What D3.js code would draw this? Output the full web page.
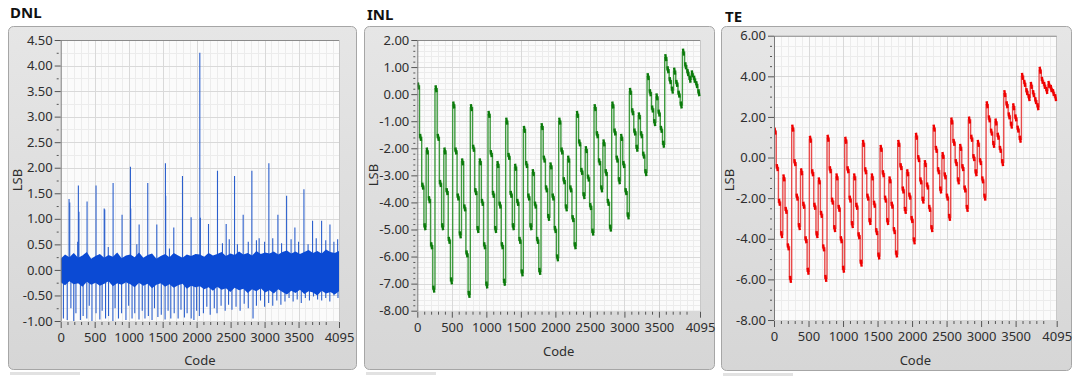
<!DOCTYPE html>
<html>
<head>
<meta charset="utf-8">
<script src="https://cdn.jsdelivr.net/npm/d3@7/dist/d3.min.js"></script>
<style>
  body { margin: 0; background: #fff; }
  svg { display: block; font-family: "Noto Sans", "Open Sans", sans-serif; }
</style>
</head>
<body>
<script>
  // ---- data ----
  const codeTicks = [0, 500, 1000, 1500, 2000, 2500, 3000, 3500, 4095]
  const dnlTicks = [-1, -0.5, 0, 0.5, 1, 1.5, 2, 2.5, 3, 3.5, 4, 4.5]
  const inlTicks = [-8, -7, -6, -5, -4, -3, -2, -1, 0, 1, 2]
  const teTicks = [-8, -6, -4, -2, 0, 2, 4, 6]

  // DNL noise band edges, one value every 64 codes
  const dnlUpper = [
    0.22, 0.30, 0.25, 0.33, 0.24, 0.28, 0.35, 0.22, 0.27, 0.31, 0.24, 0.29, 0.26, 0.34, 0.23, 0.28,
    0.30, 0.25, 0.34, 0.24, 0.29, 0.32, 0.22, 0.27, 0.31, 0.25, 0.33, 0.28, 0.24, 0.30, 0.27, 0.31,
    0.30, 0.26, 0.33, 0.28, 0.31, 0.35, 0.27, 0.32, 0.29, 0.36, 0.30, 0.33, 0.28, 0.37, 0.31, 0.34,
    0.32, 0.36, 0.30, 0.35, 0.38, 0.32, 0.36, 0.31, 0.35, 0.39, 0.33, 0.37, 0.32, 0.40, 0.35, 0.33, 0.37
  ]
  const dnlLower = [
    -0.24, -0.30, -0.22, -0.28, -0.26, -0.33, -0.23, -0.29, -0.25, -0.31, -0.27, -0.22, -0.32, -0.26, -0.29, -0.24,
    -0.28, -0.34, -0.25, -0.31, -0.27, -0.36, -0.29, -0.26, -0.33, -0.28, -0.35, -0.30, -0.27, -0.37, -0.31, -0.34,
    -0.32, -0.38, -0.34, -0.41, -0.33, -0.39, -0.36, -0.43, -0.35, -0.40, -0.37, -0.45, -0.38, -0.42, -0.36, -0.44,
    -0.40, -0.46, -0.38, -0.43, -0.48, -0.41, -0.45, -0.39, -0.47, -0.42, -0.44, -0.50, -0.41, -0.46, -0.43, -0.48, -0.42
  ]
  // DNL spikes [code, LSB]
  const dnlPeaks = [
    [123, 1.39], [133, 1.32], [250, 0.55], [260, 1.65], [268, 1.14], [388, 1.34], [520, 1.65], [640, 1.20],
    [648, 1.18], [700, 0.45], [771, 1.70], [903, 1.08], [1026, 2.02], [1030, 1.20], [1120, 0.50], [1154, 0.89],
    [1281, 1.70], [1414, 0.89], [1541, 2.09], [1545, 1.45], [1600, 0.42], [1664, 0.83], [1792, 1.84], [1919, 1.03],
    [2047, 4.25], [2055, 1.02], [2175, 0.90], [2307, 1.94], [2380, 0.52], [2435, 0.90], [2480, 0.60], [2558, 1.84],
    [2600, 0.50], [2685, 1.08], [2760, 0.55], [2813, 1.94], [2880, 0.58], [2920, 0.62], [3000, 0.55], [3063, 2.09],
    [3120, 0.62], [3196, 1.08], [3250, 0.52], [3324, 1.45], [3390, 0.60], [3446, 0.83], [3500, 0.55], [3579, 1.58],
    [3640, 0.50], [3706, 0.96], [3760, 0.62], [3839, 0.96], [3900, 0.58], [3962, 0.89], [4020, 0.55], [4075, 0.60]
  ]
  const dnlDips = [
    [40, -0.95], [96, -0.98], [150, -0.75], [192, -1.0], [224, -0.85], [290, -0.98], [330, -0.9], [384, -0.95],
    [420, -0.7], [460, -1.0], [520, -0.85], [576, -0.97], [610, -0.8], [660, -0.95], [704, -0.9], [768, -1.0],
    [800, -0.75], [850, -0.95], [896, -0.85], [960, -0.98], [1000, -0.7], [1050, -0.95], [1090, -0.85], [1152, -0.97],
    [1200, -0.8], [1240, -0.95], [1290, -0.9], [1344, -0.98], [1380, -0.75], [1430, -0.92], [1480, -0.88], [1536, -0.97],
    [1580, -0.8], [1620, -0.95], [1670, -0.85], [1728, -0.95], [1770, -0.78], [1820, -0.93], [1860, -0.85], [1920, -0.95],
    [1960, -0.98], [2000, -0.8], [2040, -0.9], [2100, -0.85], [2150, -0.72], [2200, -0.88], [2260, -0.75], [2300, -0.85],
    [2360, -0.7], [2420, -0.8], [2470, -0.68], [2520, -0.78], [2580, -0.72], [2640, -0.8], [2700, -0.66], [2760, -0.75],
    [2830, -0.95], [2880, -0.7], [2940, -0.6], [3000, -0.72], [3060, -0.65], [3120, -0.7], [3180, -0.6], [3240, -0.68],
    [3300, -0.62], [3360, -0.55], [3420, -0.62], [3480, -0.58], [3540, -0.65], [3600, -0.55], [3660, -0.6], [3720, -0.52],
    [3780, -0.58], [3840, -0.6], [3900, -0.55], [3960, -0.62], [4020, -0.5], [4080, -0.55]
  ]

  // INL / TE: 16 segments of 256 codes, 8 steps of 32 codes each
  const inlSteps = [
    [0.3, -1.6, -3.4, -4.9, -2.1, -3.9, -5.6, -7.2],
    [0.2, -1.6, -3.3, -4.9, -2.1, -3.6, -5.4, -6.9],
    [-0.4, -2.1, -3.8, -5.2, -2.5, -4.2, -5.9, -7.4],
    [-0.5, -2.0, -3.6, -5.0, -2.5, -4.0, -5.6, -7.05],
    [-0.75, -2.2, -3.7, -5.0, -2.6, -4.1, -5.6, -6.95],
    [-1.0, -2.3, -3.7, -4.9, -2.7, -4.0, -5.4, -6.6],
    [-1.3, -2.6, -3.8, -4.9, -2.9, -4.1, -5.4, -6.55],
    [-1.2, -2.4, -3.5, -4.55, -2.65, -3.8, -5.0, -6.05],
    [-1.0, -2.1, -3.2, -4.2, -2.4, -3.5, -4.6, -5.6],
    [-0.75, -1.8, -2.85, -3.75, -2.05, -3.1, -4.15, -5.1],
    [-0.5, -1.5, -2.5, -3.5, -1.8, -2.9, -4.0, -4.95],
    [-0.4, -1.4, -2.4, -3.2, -1.6, -2.6, -3.6, -4.5],
    [0.1, -0.65, -1.4, -2.0, -0.8, -1.5, -2.25, -2.9],
    [0.65, 0.05, -0.55, -1.05, -0.1, -0.7, -1.3, -1.85],
    [1.35, 0.9, 0.5, 0.15, 0.85, 0.4, 0.0, -0.4],
    [1.55, 1.05, 0.8, 0.55, 0.75, 0.55, 0.35, 0.05]
  ]
  const teSteps = [
    [1.3, -0.5, -2.2, -3.8, -1.0, -2.6, -4.4, -6.0],
    [1.45, -0.25, -1.95, -3.4, -0.7, -2.35, -4.05, -5.6],
    [0.9, -0.75, -2.4, -3.8, -1.15, -2.8, -4.45, -5.95],
    [0.95, -0.6, -2.15, -3.5, -0.95, -2.5, -4.05, -5.5],
    [0.85, -0.6, -2.05, -3.3, -0.95, -2.4, -3.85, -5.2],
    [0.7, -0.65, -1.95, -3.15, -0.95, -2.3, -3.65, -4.85],
    [0.45, -0.8, -2.05, -3.15, -1.1, -2.35, -3.6, -4.75],
    [0.7, -0.45, -1.6, -2.6, -0.75, -1.9, -3.05, -4.1],
    [1.05, -0.05, -1.15, -2.1, -0.3, -1.4, -2.5, -3.5],
    [1.45, 0.4, -0.65, -1.6, 0.1, -0.9, -1.95, -2.95],
    [1.8, 0.75, -0.25, -1.15, 0.5, -0.5, -1.55, -2.5],
    [1.85, 0.95, 0.0, -0.75, 0.7, -0.2, -1.1, -1.95],
    [2.6, 1.9, 1.25, 0.65, 1.75, 1.05, 0.4, -0.25],
    [3.15, 2.6, 2.05, 1.6, 2.5, 1.95, 1.4, 0.9],
    [4.0, 3.65, 3.25, 2.95, 3.55, 3.15, 2.8, 2.5],
    [4.3, 3.8, 3.55, 3.3, 3.6, 3.4, 3.2, 2.95]
  ]

  // ---- drawing ----
  const svg = d3.select('body').append('svg').attr('width', 1078).attr('height', 377)

  const defs = svg.append('defs')
  const grad = defs.append('linearGradient').attr('id', 'panelGrad').attr('x1', 0).attr('y1', 0).attr('x2', 0).attr('y2', 1)
  grad.append('stop').attr('offset', 0).attr('stop-color', '#e6e6e6')
  grad.append('stop').attr('offset', 1).attr('stop-color', '#d6d6d6')

  const fmt = d => d.toFixed(2)

  function drawPanel(cfg, drawData) {
    const g = svg.append('g')
    const [px, py, pw, ph] = cfg.panel
    g.append('rect').attr('x', px + 0.5).attr('y', py + 0.5).attr('width', pw).attr('height', ph)
      .attr('rx', 5).attr('fill', 'url(#panelGrad)').attr('stroke', '#a6a6a6')
    g.append('rect').attr('x', px + 2).attr('y', ph + py + 3).attr('width', 70).attr('height', 3).attr('fill', '#e2e2e2')

    g.append('text').attr('x', cfg.title[0]).attr('y', cfg.title[1]).text(cfg.name)
      .attr('font-size', 15).attr('font-weight', 'bold').attr('fill', '#111')

    const x = d3.scaleLinear().domain([0, 4095]).range([cfg.x0, cfg.x1])
    const y = d3.scaleLinear().domain(cfg.yDomain).range([cfg.y1, cfg.y0])

    g.append('rect').attr('x', cfg.x0).attr('y', cfg.y0).attr('width', cfg.x1 - cfg.x0).attr('height', cfg.y1 - cfg.y0)
      .attr('fill', '#fbfbfb')

    const minorX = d3.range(100, 4001, 100)
    const minorY = d3.range(cfg.yDomain[0], cfg.yDomain[1] + 1e-9, cfg.minor)
    const grid = g.append('g').attr('shape-rendering', 'crispEdges')
    grid.selectAll('.mx').data(minorX).join('line')
      .attr('x1', d => Math.round(x(d)) + 0.5).attr('x2', d => Math.round(x(d)) + 0.5)
      .attr('y1', cfg.y0).attr('y2', cfg.y1).attr('stroke', '#ececec')
    grid.selectAll('.my').data(minorY).join('line')
      .attr('y1', d => Math.round(y(d)) + 0.5).attr('y2', d => Math.round(y(d)) + 0.5)
      .attr('x1', cfg.x0).attr('x2', cfg.x1).attr('stroke', '#ececec')
    grid.selectAll('.Mx').data(codeTicks.slice(1, -1)).join('line')
      .attr('x1', d => Math.round(x(d)) + 0.5).attr('x2', d => Math.round(x(d)) + 0.5)
      .attr('y1', cfg.y0).attr('y2', cfg.y1).attr('stroke', '#d9d9d9')
    grid.selectAll('.My').data(cfg.yTicks).join('line')
      .attr('y1', d => Math.round(y(d)) + 0.5).attr('y2', d => Math.round(y(d)) + 0.5)
      .attr('x1', cfg.x0).attr('x2', cfg.x1).attr('stroke', '#d9d9d9')
    grid.append('line').attr('x1', cfg.x1).attr('x2', cfg.x1).attr('y1', cfg.y0).attr('y2', cfg.y1).attr('stroke', '#c8c8c8')

    const clipId = 'clip' + cfg.name
    defs.append('clipPath').attr('id', clipId).append('rect')
      .attr('x', cfg.x0).attr('y', cfg.y0).attr('width', cfg.x1 - cfg.x0 + 1).attr('height', cfg.y1 - cfg.y0)
    const dg = g.append('g').attr('clip-path', `url(#${clipId})`)
    drawData(dg, x, y)

    // top border of the plot
    g.append('line').attr('x1', cfg.x0).attr('x2', cfg.x1).attr('y1', cfg.y0 + 0.5).attr('y2', cfg.y0 + 0.5)
      .attr('stroke', '#8a8a8a')

    // axes
    const yAxis = g.append('g').attr('transform', `translate(${cfg.x0},0)`)
      .call(d3.axisLeft(y).tickValues(cfg.yTicks).tickFormat(fmt).tickSize(6).tickSizeOuter(0).tickPadding(2))
      .attr('font-family', null).attr('font-size', 13)
    yAxis.select('.domain').attr('stroke', '#7a7a7a')
    yAxis.selectAll('line').attr('stroke', '#555')
    yAxis.selectAll('text').attr('fill', '#2e2e2e')
    g.append('g').attr('transform', `translate(${cfg.x0},0)`)
      .call(d3.axisLeft(y).tickValues(minorY.filter(v => !cfg.yTicks.some(t => Math.abs(t - v) < 1e-6))).tickFormat('').tickSize(2))
      .call(a => a.select('.domain').remove())
      .selectAll('line').attr('stroke', '#555').attr('transform', 'translate(-2,0)')

    const xAxis = g.append('g').attr('transform', `translate(0,${cfg.y1 + 1})`)
      .call(d3.axisBottom(x).tickValues(codeTicks).tickFormat(d3.format('d')).tickSize(6).tickPadding(5))
      .attr('font-family', null).attr('font-size', 13)
    xAxis.select('.domain').remove()
    xAxis.selectAll('line').attr('stroke', '#555')
    xAxis.selectAll('text').attr('fill', '#2e2e2e')
    g.append('g').attr('transform', `translate(0,${cfg.y1 + 1})`)
      .call(d3.axisBottom(x).tickValues(minorX.filter(v => v % 500 !== 0)).tickFormat('').tickSize(3))
      .call(a => a.select('.domain').remove())
      .selectAll('line').attr('stroke', '#555')

    g.append('text').attr('x', (cfg.x0 + cfg.x1) / 2).attr('y', cfg.codeY).attr('text-anchor', 'middle')
      .attr('font-size', 13).attr('fill', '#2e2e2e').text('Code')
    g.append('text').attr('transform', `translate(${cfg.lsb[0]},${cfg.lsb[1]}) rotate(-90)`)
      .attr('text-anchor', 'middle').attr('font-size', 13).attr('fill', '#2e2e2e').text('LSB')
  }

  function stepData(steps) {
    const out = []
    steps.forEach((seg, k) => seg.forEach((v, j) => {
      const c0 = 256 * k + 32 * j
      out.push({ c0: c0, c1: Math.min(c0 + 32, 4095), v: v })
    }))
    return out
  }

  function drawSteps(dg, x, y, steps, thin, dark) {
    const data = stepData(steps)
    const pts = []
    data.forEach(d => { pts.push([d.c0, d.v], [d.c1, d.v]) })
    dg.append('path').datum(pts)
      .attr('d', d3.line().x(d => x(d[0])).y(d => y(d[1])))
      .attr('fill', 'none').attr('stroke', thin).attr('stroke-width', 1.4)
    dg.selectAll('.blk').data(data).join('line')
      .attr('x1', d => x(d.c0 + 8)).attr('x2', d => x(d.c0 + 22))
      .attr('y1', d => y(d.v) - 3.5).attr('y2', d => y(d.v) + 3.5)
      .attr('stroke', dark).attr('stroke-width', 2.4)
  }

  drawPanel({
    name: 'DNL', panel: [8, 26, 348, 343], title: [10, 18],
    x0: 60.7, x1: 339, y0: 40, y1: 321, yDomain: [-1, 4.5], yTicks: dnlTicks, minor: 0.25,
    codeY: 365, lsb: [22, 180]
  }, (dg, x, y) => {
    dg.selectAll('.pk').data(dnlPeaks.concat(dnlDips)).join('line')
      .attr('x1', d => x(d[0])).attr('x2', d => x(d[0]))
      .attr('y1', y(0)).attr('y2', d => y(d[1]))
      .attr('stroke', '#2b5fcc').attr('stroke-width', 1.1)
    const band = dnlUpper.map((u, i) => [Math.min(i * 64, 4095), u, dnlLower[i]])
    dg.append('path').datum(band)
      .attr('d', d3.area().x(d => x(d[0])).y0(d => y(d[2])).y1(d => y(d[1])))
      .attr('fill', '#0b4ad4')
  })

  drawPanel({
    name: 'INL', panel: [364, 26, 350, 343], title: [367, 20],
    x0: 417.3, x1: 700, y0: 40, y1: 310.7, yDomain: [-8, 2], yTicks: inlTicks, minor: 0.2,
    codeY: 356, lsb: [378, 175]
  }, (dg, x, y) => drawSteps(dg, x, y, inlSteps, '#3f9a3f', '#0b7a0b'))

  drawPanel({
    name: 'TE', panel: [721, 26, 350, 344], title: [725, 22],
    x0: 774, x1: 1056.7, y0: 35.7, y1: 320, yDomain: [-8, 6], yTicks: teTicks, minor: 0.5,
    codeY: 365, lsb: [734, 180]
  }, (dg, x, y) => drawSteps(dg, x, y, teSteps, '#e84a4a', '#f00000'))
</script>
</body>
</html>
